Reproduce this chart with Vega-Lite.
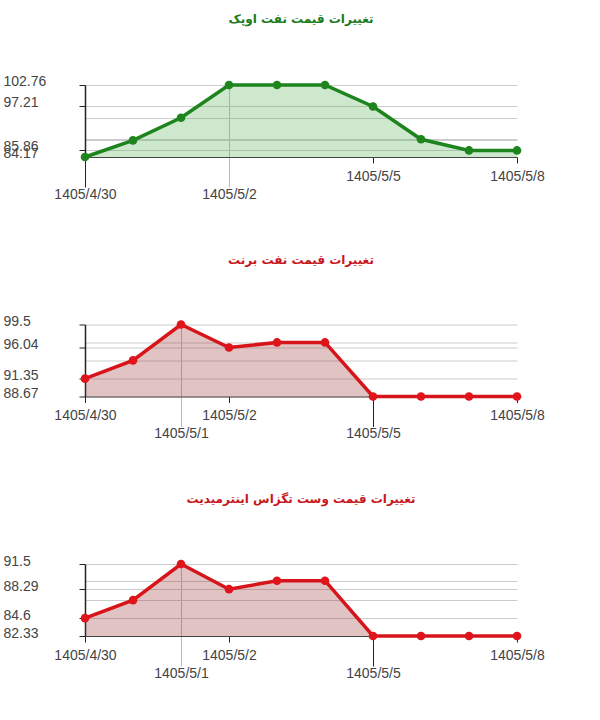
{
  "$schema": "https://vega.github.io/schema/vega-lite/v6.json",
  "padding": {"left": 3, "top": 13, "right": 5, "bottom": 5},
  "background": "white",
  "spacing": 52.5,
  "config": {
    "view": {"stroke": null},
    "axis": {"labelFont": "Liberation Sans", "labelFontSize": 14, "labelColor": "#444", "labelOverlap": false, "labelBound": false, "labelFlush": false, "title": null},
    "title": {"font": "DejaVu Sans", "fontWeight": "bold", "fontSize": 12, "anchor": "middle", "baseline": "alphabetic", "offset": 48}
  },
  "vconcat": [
    {
      "title": {"text": "تغییرات قیمت نفت اوپک", "color": "#1b7a1b"},
      "width": 432, "height": 72,
      "data": {"values": [
        {"i": 0, "v": 84.17}, {"i": 1, "v": 88.46}, {"i": 2, "v": 94.3}, {"i": 3, "v": 102.76}, {"i": 4, "v": 102.76},
        {"i": 5, "v": 102.76}, {"i": 6, "v": 97.21}, {"i": 7, "v": 88.75}, {"i": 8, "v": 85.86}, {"i": 9, "v": 85.86}
      ]},
      "encoding": {
        "x": {"field": "i", "type": "quantitative", "scale": {"domain": [0, 9], "nice": false, "zero": false},
          "axis": {"values": [0, 3, 6, 9],
            "labelExpr": "datum.value==0?'1405/4/30':datum.value==2?'1405/5/1':datum.value==3?'1405/5/2':datum.value==6?'1405/5/5':'1405/5/8'",
            "grid": true, "gridColor": "#bbb",
            "gridOpacity": {"condition": {"test": "datum.value==3", "value": 1}, "value": 0},
            "tickSize": {"condition": {"test": "datum.value==0||datum.value==3", "value": 30}, "value": 6},
            "labelPadding": {"condition": {"test": "datum.value==0||datum.value==3", "value": 0}, "value": 6},
            "tickColor": {"condition": {"test": "datum.value==3", "value": "#bbb"}, "value": "#222"},
            "domainColor": "#444"}},
        "y": {"field": "v", "type": "quantitative", "scale": {"domain": [84.17, 102.76], "nice": false, "zero": false},
          "axis": {"values": [84.17, 85.86, 88.46, 88.75, 94.3, 97.21, 102.76],
            "labelExpr": "indexof([102.76, 97.21, 85.86, 84.17], datum.value) >= 0 ? '' + datum.value : ''",
            "labelAlign": "left", "labelBaseline": "middle", "labelPadding": 76, "labelOffset": -4,
            "tickSize": 6, "tickColor": "#222",
            "tickOpacity": {"condition": {"test": "indexof([102.76, 97.21, 85.86], datum.value) >= 0", "value": 1}, "value": 0},
            "grid": true, "gridColor": "#ccc", "domainColor": "#222", "domainWidth": 1.5}}
      },
      "layer": [
        {"mark": {"type": "area", "color": "#58b258", "opacity": 0.3}, "encoding": {"y2": {"datum": 84.17}}},
        {"mark": {"type": "line", "color": "#1e841e", "strokeWidth": 3.5}},
        {"mark": {"type": "point", "filled": true, "size": 75, "color": "#1e841e", "opacity": 1}}
      ]
    },
    {
      "title": {"text": "تغییرات قیمت نفت برنت", "color": "#c8161d"},
      "width": 432, "height": 72,
      "data": {"values": [
        {"i": 0, "v": 91.35}, {"i": 1, "v": 94.1}, {"i": 2, "v": 99.5}, {"i": 3, "v": 96.04}, {"i": 4, "v": 96.8},
        {"i": 5, "v": 96.8}, {"i": 6, "v": 88.67}, {"i": 7, "v": 88.67}, {"i": 8, "v": 88.67}, {"i": 9, "v": 88.67}
      ]},
      "encoding": {
        "x": {"field": "i", "type": "quantitative", "scale": {"domain": [0, 9], "nice": false, "zero": false},
          "axis": {"values": [0, 2, 3, 6, 9],
            "labelExpr": "datum.value==0?'1405/4/30':datum.value==2?'1405/5/1':datum.value==3?'1405/5/2':datum.value==6?'1405/5/5':'1405/5/8'",
            "grid": true, "gridColor": "#bbb",
            "gridOpacity": {"condition": {"test": "datum.value==2", "value": 1}, "value": 0},
            "tickSize": {"condition": {"test": "datum.value==2||datum.value==6", "value": 30}, "value": 6},
            "labelPadding": {"condition": {"test": "datum.value==2||datum.value==6", "value": 0}, "value": 6},
            "tickColor": {"condition": {"test": "datum.value==2", "value": "#bbb"}, "value": "#222"},
            "domainColor": "#444"}},
        "y": {"field": "v", "type": "quantitative", "scale": {"domain": [88.67, 99.5], "nice": false, "zero": false},
          "axis": {"values": [88.67, 91.35, 94.1, 96.04, 96.8, 99.5],
            "labelExpr": "indexof([99.5, 96.04, 91.35, 88.67], datum.value) >= 0 ? '' + datum.value : ''",
            "labelAlign": "left", "labelBaseline": "middle", "labelPadding": 76, "labelOffset": -3,
            "tickSize": 6, "tickColor": "#222",
            "tickOpacity": {"condition": {"test": "indexof([99.5, 96.04, 91.35, 88.67], datum.value) >= 0", "value": 1}, "value": 0},
            "grid": true, "gridColor": "#ccc", "domainColor": "#222", "domainWidth": 1.5}}
      },
      "layer": [
        {"mark": {"type": "area", "color": "#922626", "opacity": 0.28}, "encoding": {"y2": {"datum": 88.67}}},
        {"mark": {"type": "line", "color": "#d8141b", "strokeWidth": 3.5}},
        {"mark": {"type": "point", "filled": true, "size": 75, "color": "#e0141b", "opacity": 1}}
      ]
    },
    {
      "title": {"text": "تغییرات قیمت وست تگزاس اینترمیدیت", "color": "#c8161d"},
      "width": 432, "height": 72,
      "data": {"values": [
        {"i": 0, "v": 84.6}, {"i": 1, "v": 86.89}, {"i": 2, "v": 91.5}, {"i": 3, "v": 88.29}, {"i": 4, "v": 89.37},
        {"i": 5, "v": 89.37}, {"i": 6, "v": 82.33}, {"i": 7, "v": 82.33}, {"i": 8, "v": 82.33}, {"i": 9, "v": 82.33}
      ]},
      "encoding": {
        "x": {"field": "i", "type": "quantitative", "scale": {"domain": [0, 9], "nice": false, "zero": false},
          "axis": {"values": [0, 2, 3, 6, 9],
            "labelExpr": "datum.value==0?'1405/4/30':datum.value==2?'1405/5/1':datum.value==3?'1405/5/2':datum.value==6?'1405/5/5':'1405/5/8'",
            "grid": true, "gridColor": "#bbb",
            "gridOpacity": {"condition": {"test": "datum.value==2", "value": 1}, "value": 0},
            "tickSize": {"condition": {"test": "datum.value==2||datum.value==6", "value": 30}, "value": 6},
            "labelPadding": {"condition": {"test": "datum.value==2||datum.value==6", "value": 0}, "value": 6},
            "tickColor": {"condition": {"test": "datum.value==2", "value": "#bbb"}, "value": "#222"},
            "domainColor": "#444"}},
        "y": {"field": "v", "type": "quantitative", "scale": {"domain": [82.33, 91.5], "nice": false, "zero": false},
          "axis": {"values": [82.33, 84.6, 86.89, 88.29, 89.37, 91.5],
            "labelExpr": "indexof([91.5, 88.29, 84.6, 82.33], datum.value) >= 0 ? '' + datum.value : ''",
            "labelAlign": "left", "labelBaseline": "middle", "labelPadding": 76, "labelOffset": -3,
            "tickSize": 6, "tickColor": "#222",
            "tickOpacity": {"condition": {"test": "indexof([91.5, 88.29, 84.6, 82.33], datum.value) >= 0", "value": 1}, "value": 0},
            "grid": true, "gridColor": "#ccc", "domainColor": "#222", "domainWidth": 1.5}}
      },
      "layer": [
        {"mark": {"type": "area", "color": "#922626", "opacity": 0.28}, "encoding": {"y2": {"datum": 82.33}}},
        {"mark": {"type": "line", "color": "#d8141b", "strokeWidth": 3.5}},
        {"mark": {"type": "point", "filled": true, "size": 75, "color": "#e0141b", "opacity": 1}}
      ]
    }
  ]
}
